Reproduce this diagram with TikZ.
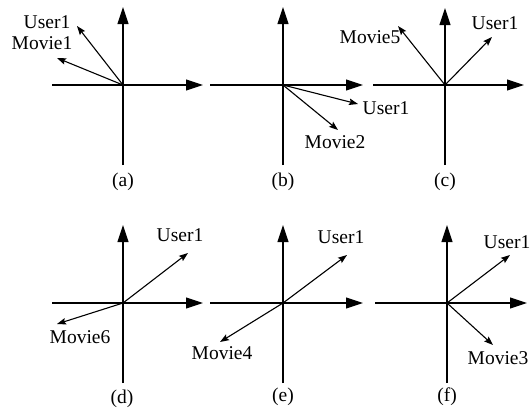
\documentclass[tikz,border=0pt]{standalone}
\usepackage{fontspec}
\setmainfont{Liberation Serif}
\usetikzlibrary{arrows.meta}
\begin{document}
\begin{tikzpicture}[x=1pt,y=-1pt,
  axis/.style={line width=1.1pt,-{Triangle[length=17pt,width=11pt]}},
  vec/.style={line width=1.1pt,-{Stealth[length=9pt,width=6.5pt,inset=1.5pt]}},
  lbl/.style={inner sep=0pt,font=\fontsize{19.5}{21}\selectfont},
  dot/.style={circle,fill,inner sep=0pt,minimum size=3pt}]
\useasboundingbox (0,0) rectangle (532,408);
% (a)
\coordinate (oa) at (123,85);
\coordinate (aL) at (52,85);  \coordinate (aR) at (203,85);
\coordinate (aB) at (123,165); \coordinate (aT) at (123,7);
\draw[axis] (aL) -- (aR);
\draw[axis] (aB) -- (aT);
\node[dot] (da) at (oa) {};
\coordinate (aU) at (77,26); \coordinate (aM) at (57,58);
\draw[vec] (oa) -- (aU);
\draw[vec] (oa) -- (aM);
\node[lbl] (aUl) at (47,22) {User1};
\node[lbl] (aMl) at (42,43) {Movie1};
\node[lbl] (capa) at (123,182) {(a)};
% (b)
\coordinate (ob) at (283,85);
\coordinate (bL) at (210,85);  \coordinate (bR) at (363,85);
\coordinate (bB) at (283,165); \coordinate (bT) at (283,7);
\draw[axis] (bL) -- (bR);
\draw[axis] (bB) -- (bT);
\node[dot] (db) at (ob) {};
\coordinate (bU) at (358,104); \coordinate (bM) at (338,130);
\draw[vec] (ob) -- (bU);
\draw[vec] (ob) -- (bM);
\node[lbl] (bUl) at (386,108) {User1};
\node[lbl] (bMl) at (335,142) {Movie2};
\node[lbl] (capb) at (283,182) {(b)};
% (c)
\coordinate (oc) at (445,85);
\coordinate (cL) at (373,85);  \coordinate (cR) at (524,85);
\coordinate (cB) at (445,165); \coordinate (cT) at (445,8);
\draw[axis] (cL) -- (cR);
\draw[axis] (cB) -- (cT);
\node[dot] (dc) at (oc) {};
\coordinate (cU) at (492,37); \coordinate (cM) at (398,26);
\draw[vec] (oc) -- (cU);
\draw[vec] (oc) -- (cM);
\node[lbl] (cUl) at (495,23) {User1};
\node[lbl] (cMl) at (370,37) {Movie5};
\node[lbl] (capc) at (445,182) {(c)};
% (d)
\coordinate (od) at (123,303);
\coordinate (dL) at (52,303);  \coordinate (dR) at (203,303);
\coordinate (dB) at (123,383); \coordinate (dT) at (123,225);
\draw[axis] (dL) -- (dR);
\draw[axis] (dB) -- (dT);
\node[dot] (dd) at (od) {};
\coordinate (dU) at (188,253); \coordinate (dM) at (57,324);
\draw[vec] (od) -- (dU);
\draw[vec] (od) -- (dM);
\node[lbl] (dUl) at (180,235) {User1};
\node[lbl] (dMl) at (80,337) {Movie6};
\node[lbl] (capd) at (122,399) {(d)};
% (e)
\coordinate (oe) at (283,303);
\coordinate (eL) at (210,303);  \coordinate (eR) at (363,303);
\coordinate (eB) at (283,383); \coordinate (eT) at (283,225);
\draw[axis] (eL) -- (eR);
\draw[axis] (eB) -- (eT);
\node[dot] (de) at (oe) {};
\coordinate (eU) at (347,255); \coordinate (eM) at (220,342);
\draw[vec] (oe) -- (eU);
\draw[vec] (oe) -- (eM);
\node[lbl] (eUl) at (341,237) {User1};
\node[lbl] (eMl) at (222,353) {Movie4};
\node[lbl] (cape) at (283,397) {(e)};
% (f)
\coordinate (of) at (447,303);
\coordinate (fL) at (375,303);  \coordinate (fR) at (527,303);
\coordinate (fB) at (447,383); \coordinate (fT) at (447,225);
\draw[axis] (fL) -- (fR);
\draw[axis] (fB) -- (fT);
\node[dot] (df) at (of) {};
\coordinate (fU) at (510,255); \coordinate (fM) at (493,345);
\draw[vec] (of) -- (fU);
\draw[vec] (of) -- (fM);
\node[lbl] (fUl) at (507,242) {User1};
\node[lbl] (fMl) at (498,358) {Movie3};
\node[lbl] (capf) at (447,397) {(f)};
\end{tikzpicture}
\end{document}
